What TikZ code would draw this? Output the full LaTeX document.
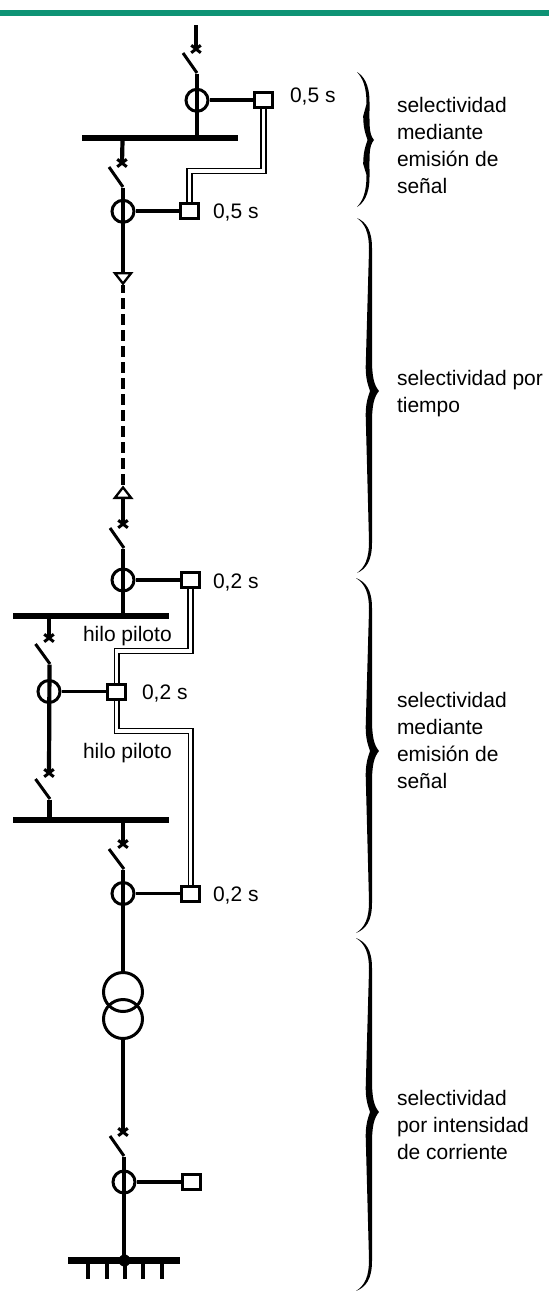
\documentclass[tikz,border=0pt]{standalone}
\usepackage{fontspec}
\setmainfont{Liberation Sans}
\usetikzlibrary{shapes.misc}
\newcommand{\bracemark}[6]{% xl, xr, xt, t, m, b
  \fill[black] (#1,#4) .. controls (#2-6,#4+4) and (#2,#4+12) .. (#2,#4+30)
    -- (#2,#5-32) .. controls (#2,#5-14) and (#3-5,#5-6) .. (#3,#5)
    .. controls (#3-5,#5+6) and (#2,#5+14) .. (#2,#5+32)
    -- (#2,#6-30) .. controls (#2,#6-12) and (#2-6,#6-4) .. (#1,#6)
    .. controls (#2-7,#6-6) and (#2-3,#6-14) .. (#2-3,#6-32)
    -- (#2-6.3,#5+24) .. controls (#2-6.3,#5+12) and (#2-4,#5+6) .. (#2-2,#5)
    .. controls (#2-4,#5-6) and (#2-6.3,#5-12) .. (#2-6.3,#5-24)
    -- (#2-3,#4+32) .. controls (#2-3,#4+14) and (#2-7,#4+6) .. (#1,#4) -- cycle;}
\tikzset{
  x=1pt,y=-1pt,
  wire/.style={line width=4.2pt,black},
  tap/.style={line width=3.8pt,black},
  blade/.style={line width=3pt,black},
  pilot/.style={line width=1.6pt,draw=black,double=white,double distance=3.2pt,line join=miter},
  dashline/.style={line width=4.2pt,black,dash pattern=on 10.7pt off 5.3pt,dash phase=2.7pt},
  ct/.style={circle,draw=black,line width=3pt,minimum size=22pt,inner sep=0pt},
  relay/.style={rectangle,draw=black,fill=white,line width=3pt,minimum width=18pt,minimum height=15pt,inner sep=0pt},
  bus/.style={rectangle,fill=black,minimum height=6pt,inner sep=0pt,outer sep=0pt},
  breaker/.style={cross out,draw=black,line width=3pt,minimum width=9.5pt,minimum height=7.5pt,inner sep=0pt,outer sep=0pt},
  tri/.style={line width=2.3pt,draw=black,fill=white,line join=miter,miter limit=10},
  trafo/.style={circle,draw=black,line width=3pt,minimum size=39pt,inner sep=0pt},
  txt/.style={font=\fontsize{21}{27}\selectfont,text=black,inner sep=0pt,outer sep=0pt,anchor=base west},
  blocktxt/.style={txt,align=left},
}
\definecolor{barcolor}{RGB}{14,147,117}
\begin{document}
\begin{tikzpicture}
\useasboundingbox (0,0) rectangle (549,1291);
% header bar
\node[rectangle,fill=barcolor,minimum width=549pt,minimum height=5.7pt,inner sep=0pt,outer sep=0pt,anchor=west] (bar) at (0,12.9) {};

% buses
\node[bus,minimum width=156pt] (busA) at (160,138) {};
\node[bus,minimum width=156pt] (busB) at (91,616) {};
\node[bus,minimum width=156pt] (busC) at (91,820) {};
\node[bus,minimum width=112pt,minimum height=6.5pt] (busD) at (124,1260.5) {};

% current transformers
\node[ct] (ct1) at (197,100.3) {};
\node[ct] (ct2) at (123,211.3) {};
\node[ct] (ct3) at (123,580) {};
\node[ct] (ct4) at (49,691.5) {};
\node[ct] (ct5) at (123,893.5) {};
\node[ct] (ct6) at (124,1182) {};

% relays
\node[relay] (r1) at (263.5,100.3) {};
\node[relay] (r2) at (189.5,211.3) {};
\node[relay] (r3) at (190.5,580) {};
\node[relay] (r4) at (116.8,691.5) {};
\node[relay] (r5) at (190.8,893.5) {};
\node[relay] (r6) at (191,1182) {};

% breakers
\node[breaker] (b1) at (196,49) {};
\node[breaker] (b2) at (122,163) {};
\node[breaker] (b3) at (123,524) {};
\node[breaker] (b4) at (49,638) {};
\node[breaker] (b5) at (49,773) {};
\node[breaker] (b6) at (123,844) {};
\node[breaker] (b7) at (123,1132) {};

% switch blades
\coordinate (s1a) at (183,53);  \coordinate (s1b) at (197,73);
\coordinate (s2a) at (109,167); \coordinate (s2b) at (123,187);
\coordinate (s3a) at (110,528); \coordinate (s3b) at (124,548);
\coordinate (s4a) at (35.5,644);  \coordinate (s4b) at (50,664);
\coordinate (s5a) at (35.5,779);  \coordinate (s5b) at (50,799);
\coordinate (s6a) at (109,849); \coordinate (s6b) at (124,869);
\coordinate (s7a) at (110,1136); \coordinate (s7b) at (124,1156);
\foreach \n in {1,...,7} \draw[blade,line cap=butt] (s\n a) -- (s\n b);

% feeder ends and triangles
\coordinate (top) at (196,25);
\coordinate (t1top) at (123,273);
\coordinate (t1apex) at (123,285);
\coordinate (t2apex) at (123,485);
\coordinate (t2base) at (123,498);

% main vertical wires
\draw[wire] (top) -- (b1.center);
\draw[wire] (197,73.5) -- (busA.north -| 197,0);
\draw[wire] (122.5,141) -- (b2.center);
\draw[wire] (123,187.5) -- (t1top);
\draw[dashline] (t1apex) -- (t2apex);
\draw[wire] (t2base) -- (b3.center);
\draw[wire] (123,548.5) -- (123,613);
\draw[wire] (49,619) -- (b4.center);
\draw[wire] (49.5,664.5) -- (b5.center);
\draw[wire] (49.5,799.5) -- (49.5,817);
\draw[wire] (123,823) -- (b6.center);
\draw[wire] (123,869.5) -- (123,973);

% transformer
\node[trafo] (tr1) at (123,992) {};
\node[trafo] (tr2) at (123,1019) {};
\draw[wire] (tr2.south) -- (b7.center);
\draw[wire] (124,1156.5) -- (124,1258);

% triangles
\draw[tri] (114.85,273.15) -- (131.15,273.15) -- (123,283.6) -- cycle;
\draw[tri] (114.85,497.85) -- (131.15,497.85) -- (123,487.4) -- cycle;

% taps to relays
\draw[tap] (ct1.east) -- (r1.west);
\draw[tap] (ct2.east) -- (r2.west);
\draw[tap] (ct3.east) -- (r3.west);
\draw[tap] (ct4.east) -- (r4.west);
\draw[tap] (ct5.east) -- (r5.west);
\draw[tap] (ct6.east) -- (r6.west);

% pilot wires
\coordinate (p1) at (263.5,171); \coordinate (p2) at (189.5,171);
\coordinate (p3) at (190.5,651); \coordinate (p4) at (116.8,651);
\coordinate (p5) at (116.8,731); \coordinate (p6) at (190.8,731);
\draw[pilot] (r1.south) -- (p1) -- (p2) -- (r2.north);
\draw[pilot] (r3.south) -- (p3) -- (p4) -- (r4.north);
\draw[pilot] (r4.south) -- (p5) -- (p6) -- (r5.north);

% busbar D
\fill[black] (124.5,1260.5) circle (6);
\coordinate (d1) at (88,1279);  \coordinate (d2) at (107,1279);
\coordinate (d3) at (125,1279); \coordinate (d4) at (143,1279);
\coordinate (d5) at (162,1279);
\foreach \n in {1,...,5} \draw[line width=4.4pt,black] (d\n |- busD.south) -- (d\n);

% braces
\bracemark{357}{369.5}{374}{72}{140}{207}
\bracemark{357}{372}{379}{218}{391}{573}
\bracemark{356}{372}{379}{578}{751}{933}
\bracemark{356}{372}{379}{938}{1112}{1291}

% labels
\node[txt] (l1) at (290,102.5) {0,5 s};
\node[txt] (l2) at (213,218) {0,5 s};
\node[txt] (l3) at (213,588) {0,2 s};
\node[txt] (l4) at (142,699) {0,2 s};
\node[txt] (l5) at (213,901) {0,2 s};
\node[txt] (h1) at (83,641) {hilo piloto};
\node[txt] (h2) at (83,758) {hilo piloto};
\node[blocktxt] (t1) at (397,193) {selectividad\\mediante\\emisión de\\señal};
\node[blocktxt] (t2) at (397,412.5) {selectividad por\\tiempo};
\node[blocktxt] (t3) at (397,788) {selectividad\\mediante\\emisión de\\señal};
\node[blocktxt] (t4) at (397,1159) {selectividad\\por intensidad\\de corriente};
\end{tikzpicture}
\end{document}
